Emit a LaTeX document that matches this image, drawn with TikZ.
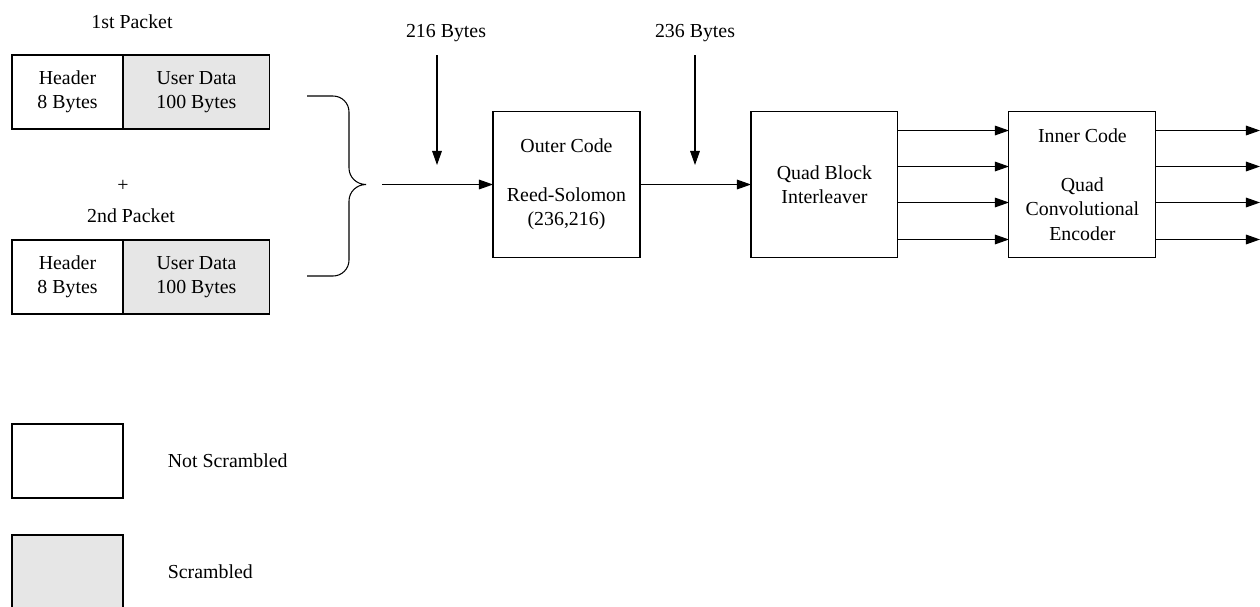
\documentclass[tikz,border=0pt]{standalone}
\usepackage{fontspec}
\setmainfont{Liberation Serif}
\usetikzlibrary{arrows.meta, positioning}
\definecolor{scramblegray}{RGB}{230,230,230}
\tikzset{
>={Triangle[length=8pt,width=5.5pt]}, % filled arrow heads
every node/.style={font=\fontsize{11.3}{13.9}\selectfont}, % text size of all nodes
box/.style={draw, line width=0.6pt, align=center, inner sep=0pt, outer sep=0pt}, % plain rectangle
hdr/.style={box, minimum width=2.22cm, minimum height=1.48cm}, % header field (not scrambled)
usr/.style={box, fill=scramblegray, minimum width=2.94cm, minimum height=1.48cm}, % user data field (scrambled)
block/.style={box, minimum width=2.94cm, minimum height=2.92cm}, % coder blocks
}

\begin{document}
\begin{tikzpicture}[x=0.02cm, y=-0.02cm, line width=0.6pt]
  \useasboundingbox (0,0) rectangle (1260,606);

  % the two packets
  \node (pkt1) at (132,22) {1st Packet};
  \node[hdr] (hdr1) at (67.5,92) {Header\\8 Bytes};
  \node[usr, right=0cm of hdr1] (usr1) {User Data\\100 Bytes};
  \node (plus) at (123,186) {+};
  \node (pkt2) at (131,216) {2nd Packet};
  \node[hdr] (hdr2) at (67.5,277) {Header\\8 Bytes};
  \node[usr, right=0cm of hdr2] (usr2) {User Data\\100 Bytes};

  % brace joining both packets
  \draw (307,96) -- (333,96) to[out=0,in=90] (349,112) -- (349,168)
    to[out=-90,in=180] (366,184.5) to[out=180,in=90] (349,201) -- (349,260)
    to[out=-90,in=0] (333,276) -- (307,276);

  % coder chain
  \coordinate (inp) at (382,184.5);
  \node[block] (outer) at (566.5,184.5) {Outer Code\\[\baselineskip]Reed-Solomon\\(236,216)};
  \node[block, right=2.22cm of outer] (inter) {Quad Block\\Interleaver};
  \node[block, right=2.22cm of inter] (inner) {Inner Code\\[\baselineskip]Quad\\Convolutional\\Encoder};
  \coordinate (out) at (1260,184.5);

  \draw[->] (inp) -- (outer.west);
  \draw[->] (outer) -- (inter);
  \foreach \dy in {1.08, 0.36, -0.36, -1.1} {
    \draw[->] ([yshift=\dy cm]inter.east) -- ([yshift=\dy cm]inner.west);
    \draw[->] ([yshift=\dy cm]inner.east) -- ([yshift=\dy cm]out);
  }

  % byte counts
  \node (b216) at (446,33) {216 Bytes};
  \node (b236) at (695,33) {236 Bytes};
  \coordinate (s216) at (437,55);
  \coordinate (e216) at (437,165);
  \coordinate (s236) at (695,55);
  \coordinate (e236) at (695,165);
  \draw[->] (s216) -- (e216);
  \draw[->] (s236) -- (e236);

  % legend
  \node[hdr] (leg1) at (67.5,461) {};
  \node[right=0.77cm of leg1] (leg1txt) {Not Scrambled};
  \node[hdr, fill=scramblegray] (leg2) at (67.5,572) {};
  \node[right=0.77cm of leg2] (leg2txt) {Scrambled};
\end{tikzpicture}
\end{document}
